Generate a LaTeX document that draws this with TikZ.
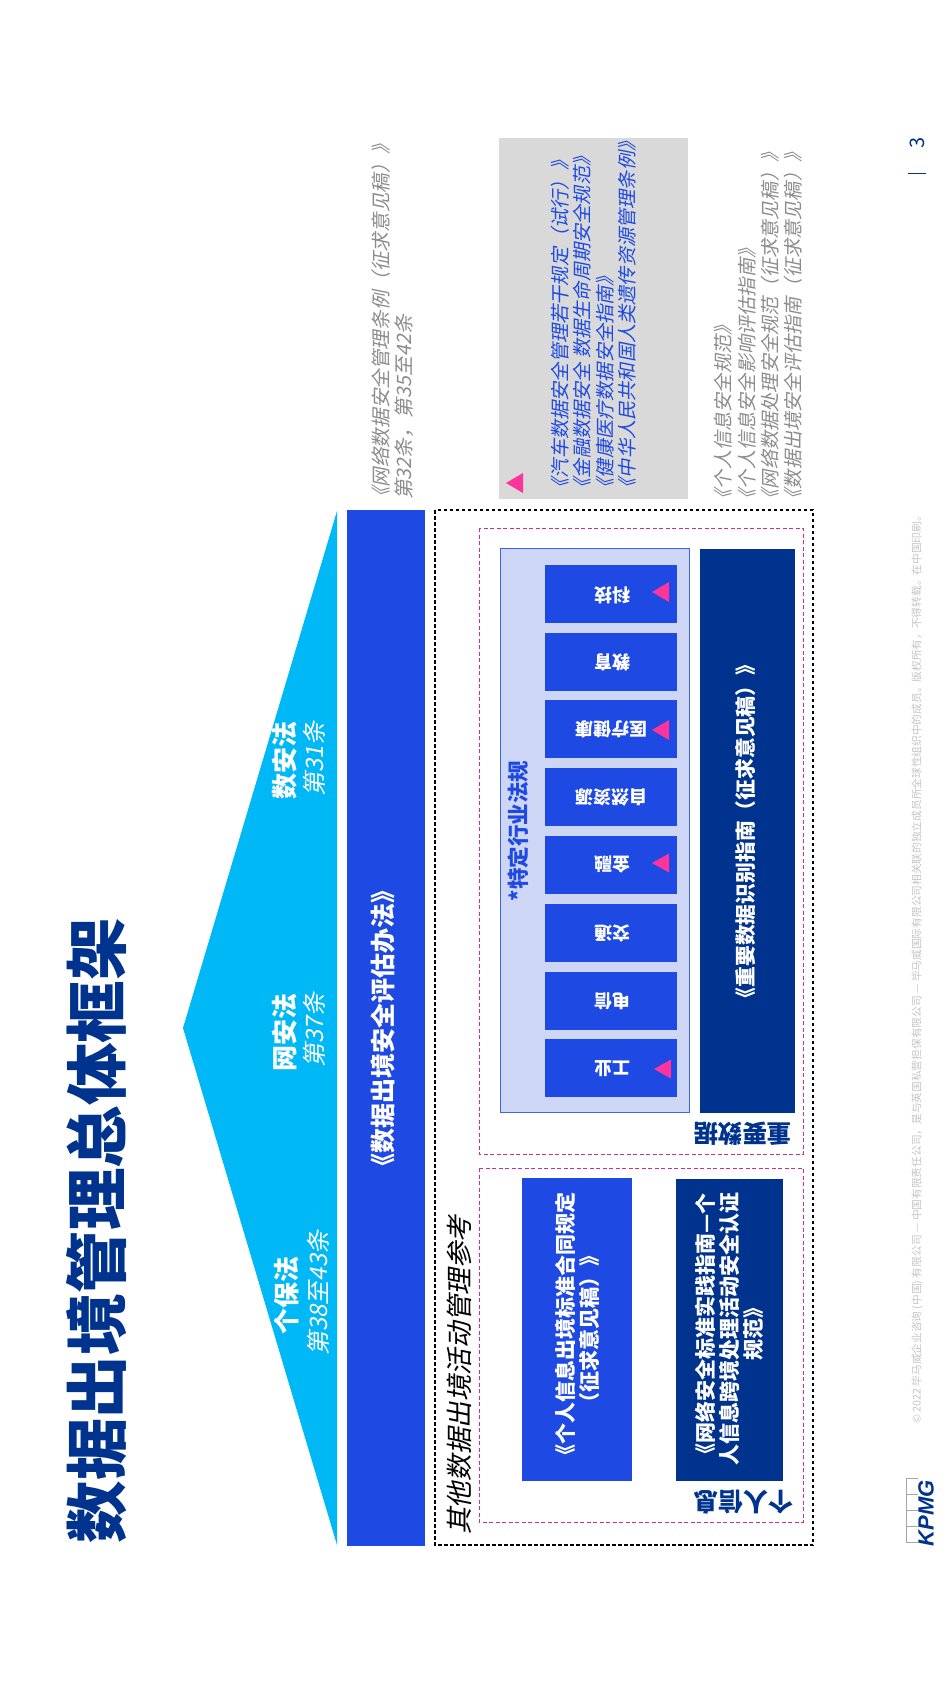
\documentclass[tikz,border=0pt]{standalone}
\usepackage{fontspec}
\setmainfont{Noto Sans CJK SC}
\newfontfamily\cjkit[FakeSlant=0.2]{Noto Sans CJK SC}
\newfontfamily\kpmgfont{Liberation Sans}
\definecolor{kblue}{HTML}{1E49E2}
\definecolor{kdark}{HTML}{00338D}
\definecolor{kcyan}{HTML}{00B8F5}
\definecolor{klight}{HTML}{CDD6F5}
\definecolor{kpink}{HTML}{FD349C}
\definecolor{kgrey}{HTML}{D9D9D9}
\definecolor{ktext}{HTML}{8C8C8C}
\definecolor{kfoot}{HTML}{C4C4C4}
\newcommand{\fsz}[1]{\fontsize{#1}{#1}\selectfont}
\tikzset{
  up/.style={rotate=90,inner sep=0pt},
  down/.style={rotate=180,inner sep=0pt},
  head/.style={up,text=white,font=\bfseries\fsz{26}},
  sub/.style={up,text=white,font=\cjkit\fsz{24}},
  sector/.style={fill=kblue,text=white,inner sep=0pt,minimum width=132pt,minimum height=58pt},
  sectorlabel/.style={down,text=white,font=\bfseries\fsz{18}},
  listtext/.style={up,anchor=west,font=\cjkit\fsz{19.2}},
  bluetext/.style={up,anchor=west,text=kblue,font=\cjkit\fsz{19.2}},
  blackdash/.style={draw=black,line width=1.1pt,dash pattern=on 3.5pt off 2.5pt},
  pinkdash/.style={draw=kpink!85!black,line width=0.9pt,dash pattern=on 4pt off 2.5pt},
  mark tri/.style={fill=kpink},
  grid line/.style={draw=black!35,line width=0.5pt},
}
\begin{document}
\begin{tikzpicture}[x=1pt,y=-1pt]
\useasboundingbox (0,0) rectangle (949,1684);
% title
\node[up,text=kdark,font=\bfseries\fsz{62.5}] (title) at (97,1230.5) {数据出境管理总体框架};
% triangle and laws
\fill[kcyan] (337,511) -- (183,1028) -- (337,1545) -- cycle;
\node[head] (l1) at (285,760) {数安法};
\node[sub] (l1s) at (314,759) {第31条};
\node[head] (l2) at (285,1032) {网安法};
\node[sub] (l2s) at (314,1030) {第37条};
\node[head] (l3) at (287,1295) {个保法};
\node[sub] (l3s) at (318,1293) {第38至43条};
% main bar
\node[fill=kblue,inner sep=0pt,minimum width=78pt,minimum height=1036pt,anchor=north west] (bar) at (347,510) {};
\node[up,text=white,font=\bfseries\fsz{25}] (bart) at (383,1028.5) {《数据出境安全评估办法》};
% frames
\draw[blackdash] (435,510) rectangle (813,1545);
\node[up,font=\cjkit\fsz{26.6}] (other) at (459,1375) {其他数据出境活动管理参考};
\draw[pinkdash] (479,528) rectangle (803,1154);
\draw[pinkdash] (479,1168) rectangle (803,1522);
% sector panel
\draw[fill=klight,draw=kblue!85!white,line width=0.9pt] (500,548) rectangle (689,1112);
\node[up,text=kblue,font=\bfseries\fsz{21.5}] (spec) at (518,831) {*特定行业法规};
\node[sector] (s1) at (611,593.5) {}; \node[sectorlabel] at (612,595) {科技};
\node[sector] (s2) at (611,662) {}; \node[sectorlabel] at (612,662) {教育};
\node[sector] (s3) at (611,729) {}; \node[sectorlabel] at (611,729) {医疗健康};
\node[sector] (s4) at (611,797) {}; \node[sectorlabel] at (611,797) {自然资源};
\node[sector] (s5) at (611,864.5) {}; \node[sectorlabel] at (612,864) {金融};
\node[sector] (s6) at (611,932.5) {}; \node[sectorlabel] at (612,933) {交通};
\node[sector] (s7) at (611,1000.5) {}; \node[sectorlabel] at (612,1001) {电信};
\node[sector] (s8) at (611,1068) {}; \node[sectorlabel] at (612,1069) {工业};
\fill[mark tri] (652,592) -- (669,582) -- (669,602) -- cycle;
\fill[mark tri] (652,730) -- (669,720) -- (669,740) -- cycle;
\fill[mark tri] (652,863) -- (669,853.5) -- (669,872.5) -- cycle;
\fill[mark tri] (654,1069) -- (671,1059.5) -- (671,1078.5) -- cycle;
% dark box
\node[fill=kdark,inner sep=0pt,minimum width=95pt,minimum height=564pt,anchor=north west] (imp) at (700,548.5) {};
\node[up,text=white,font=\bfseries\fsz{20.8}] (impt) at (746,831.5) {《重要数据识别指南（征求意见稿）》};
\node[down,text=kdark,font=\bfseries\fsz{24.5}] (impl) at (742.5,1134) {重要数据};
% personal info
\node[fill=kblue,inner sep=0pt,minimum width=110pt,minimum height=303pt,anchor=north west] (p1) at (522,1177.5) {};
\node[up,text=white,align=center,font=\bfseries\fontsize{21}{24}\selectfont] (p1t) at (577,1329) {《个人信息出境标准合同规定\\（征求意见稿）》};
\node[fill=kdark,inner sep=0pt,minimum width=107.5pt,minimum height=301.5pt,anchor=north west] (p2) at (675.5,1179) {};
\node[up,text=white,align=center,font=\bfseries\fontsize{21}{24}\selectfont] (p2t) at (729,1329) {《网络安全标准实践指南—个\\人信息跨境处理活动安全认证\\规范》};
\node[down,text=kdark,font=\bfseries\fsz{25}] (perl) at (743,1501.7) {个人信息};
% right-hand notes
\node[listtext,text=ktext,font=\cjkit\fsz{19.6}] (n1) at (381,507) {《网络数据安全管理条例（征求意见稿）》};
\node[listtext,text=ktext,font=\cjkit\fsz{19.8}] (n2) at (404,500) {第32条，第35至42条};
\fill[kgrey] (499,137.5) rectangle (688,499);
\fill[mark tri] (506,483) -- (523,473) -- (523,493) -- cycle;
\node[bluetext] (b1) at (560,497.5) {《汽车数据安全管理若干规定（试行）》};
\node[bluetext] (b2) at (582.5,497.5) {《金融数据安全 数据生命周期安全规范》};
\node[bluetext] (b3) at (605,497.5) {《健康医疗数据安全指南》};
\node[bluetext] (b4) at (627.5,497.5) {《中华人民共和国人类遗传资源管理条例》};
\node[listtext,text=ktext] (g1) at (723,508.5) {《个人信息安全规范》};
\node[listtext,text=ktext] (g2) at (747,508.5) {《个人信息安全影响评估指南》};
\node[listtext,text=ktext] (g3) at (770,508.5) {《网络数据处理安全规范（征求意见稿）》};
\node[listtext,text=ktext] (g4) at (793,508.5) {《数据出境安全评估指南（征求意见稿）》};
% footer
\node[up,anchor=west,text=kfoot,font=\fsz{10.7}] (foot) at (917,1424) {© 2022 毕马威企业咨询 (中国) 有限公司 — 中国有限责任公司，是与英国私营担保有限公司 — 毕马威国际有限公司相关联的独立成员所全球性组织中的成员。版权所有，不得转载。在中国印刷。};
\node[up,text=kdark,font=\fsz{20}] (page) at (917,143) {3};
\draw[kdark,line width=0.9pt] (908,173) -- (926,173);
% KPMG mark
\draw[grid line] (918,1478) -- (906,1478) -- (906,1542) -- (918,1542);
\draw[grid line] (906,1494) -- (918,1494) (906,1510) -- (918,1510) (906,1526) -- (918,1526);
\node[up,text=kdark,font=\kpmgfont\bfseries\itshape\fsz{22}] (kpmg) at (926,1513) {KPMG};
\end{tikzpicture}
\end{document}
